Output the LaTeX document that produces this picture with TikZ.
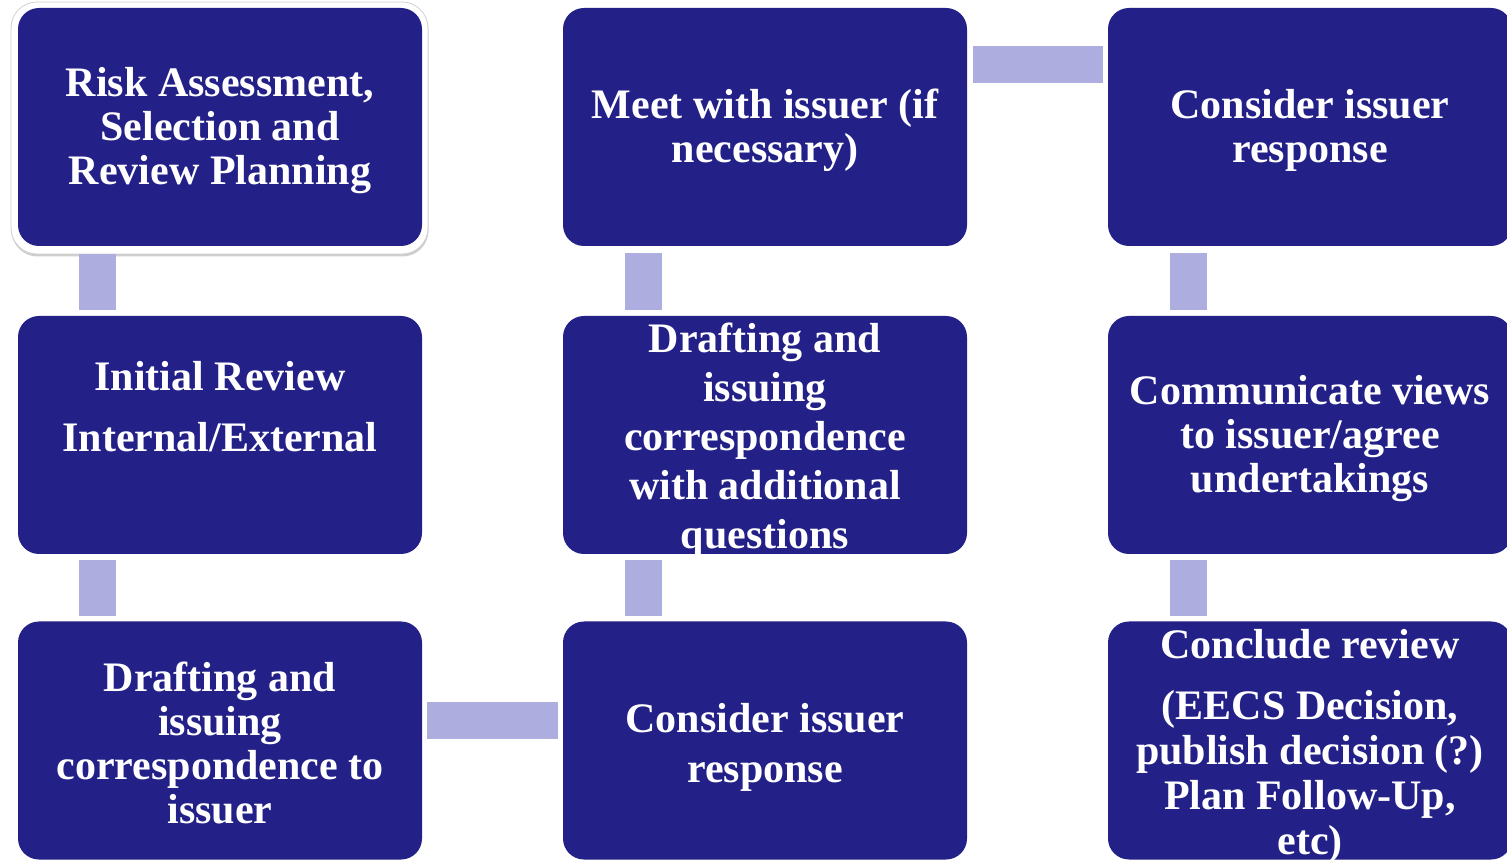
\documentclass[tikz,border=0pt]{standalone}
\usepackage{fontspec}
\setmainfont{Liberation Serif}
\usetikzlibrary{shadows}
\definecolor{navy}{HTML}{232088}
\definecolor{connc}{HTML}{ADADE0}
\begin{document}
\begin{tikzpicture}[x=1pt,y=1pt,
  box/.style={rectangle, rounded corners=21pt, fill=navy, minimum width=404pt, minimum height=238pt, inner sep=0pt},
  txt/.style={text=white, align=center, font=\fontsize{42}{44}\selectfont\bfseries, inner sep=0pt},
  bar/.style={draw=connc, line width=37pt},
]
\useasboundingbox (0,0) rectangle (1507,860);
\fill[white] (0,0) rectangle (1507,860);

% white frame with shadow round the first box
\node[rectangle, rounded corners=26pt, fill=white, draw=black!18, line width=0.8pt, minimum width=417pt, minimum height=252pt, inner sep=0pt,
      drop shadow={shadow xshift=0.5pt, shadow yshift=-2.5pt, opacity=0.35, fill=black!55}] (frame) at (219.5,732) {};

% boxes
\node[box] (b1) at (220,733) {};
\node[box] (b2) at (220,425) {};
\node[box] (b3) at (220,119.5) {};
\node[box] (c1) at (765,733) {};
\node[box] (c2) at (765,425) {};
\node[box] (c3) at (765,119.5) {};
\node[box] (d1) at (1310,733) {};
\node[box] (d2) at (1310,425) {};
\node[box] (d3) at (1310,119.5) {};

% connectors
\draw[bar, shorten <=8pt, shorten >=6pt] ([xshift=79.5pt]b1.south west) -- ([xshift=79.5pt]b2.north west);
\draw[bar, shorten <=6pt, shorten >=5pt] ([xshift=79.5pt]b2.south west) -- ([xshift=79.5pt]b3.north west);
\draw[bar, shorten <=5pt, shorten >=5pt] ([yshift=20pt]b3.east) -- ([yshift=20pt]c3.west);
\draw[bar, shorten <=5pt, shorten >=6pt] ([xshift=80.5pt]c3.north west) -- ([xshift=80.5pt]c2.south west);
\draw[bar, shorten <=6pt, shorten >=7pt] ([xshift=80.5pt]c2.north west) -- ([xshift=80.5pt]c1.south west);
\draw[bar, shorten <=6pt, shorten >=5pt] ([yshift=62.5pt]c1.east) -- ([yshift=62.5pt]d1.west);
\draw[bar, shorten <=7pt, shorten >=6pt] ([xshift=80.5pt]d1.south west) -- ([xshift=80.5pt]d2.north west);
\draw[bar, shorten <=6pt, shorten >=5pt] ([xshift=80.5pt]d2.south west) -- ([xshift=80.5pt]d3.north west);

% texts
\node[txt] (t1) at ([yshift=-3.5pt]b1.center) {Risk Assessment,\\Selection and\\Review Planning};
\node[txt, font=\fontsize{42}{61}\selectfont\bfseries] (t2) at ([yshift=28pt]b2.center) {Initial Review\\Internal/External};
\node[txt] (t3) at ([yshift=-2pt]b3.center) {Drafting and\\issuing\\correspondence to\\issuer};
\node[txt] (u1) at ([yshift=-3.5pt]c1.center) {Meet with issuer (if\\necessary)};
\node[txt, font=\fontsize{42}{49}\selectfont\bfseries] (u2) at ([yshift=-5pt]c2.center) {Drafting and\\issuing\\correspondence\\with additional\\questions};
\node[txt, font=\fontsize{42}{50}\selectfont\bfseries] (u3) at ([yshift=-7pt]c3.center) {Consider issuer\\response};
\node[txt] (v1) at ([yshift=-3.5pt]d1.center) {Consider issuer\\response};
\node[txt] (v2) at ([yshift=-3.5pt]d2.center) {Communicate views\\to issuer/agree\\undertakings};
\node[txt, font=\fontsize{42}{45}\selectfont\bfseries] (v3) at ([yshift=-6pt]d3.center) {Conclude review\\[16pt](EECS Decision,\\publish decision (?)\\Plan Follow-Up,\\etc)};
\end{tikzpicture}
\end{document}
